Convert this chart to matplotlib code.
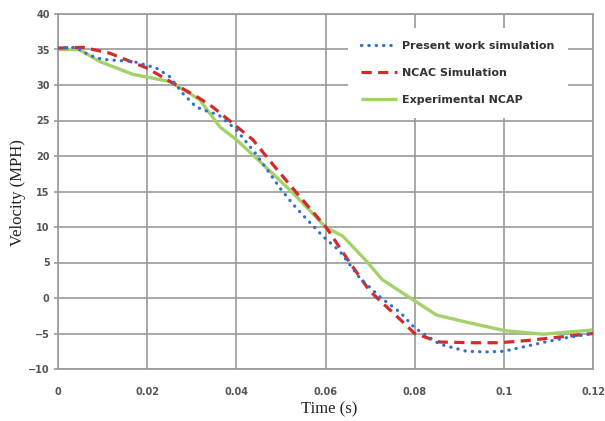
import matplotlib
matplotlib.use("Agg")
import matplotlib.pyplot as plt

# ---- data ----
t_present = [0, 0.004, 0.007, 0.010, 0.017, 0.022, 0.025, 0.028, 0.031, 0.0335, 0.036, 0.040,
             0.0445, 0.050, 0.0534, 0.0594, 0.0632, 0.0677, 0.0725, 0.0767, 0.080, 0.0856,
             0.0916, 0.096, 0.100, 0.105, 0.110, 0.114, 0.120]
v_present = [35.2, 35.3, 34.2, 33.6, 33.3, 32.4, 31.2, 28.8, 26.9, 26.3, 25.8, 23.7,
             20.2, 15.3, 12.7, 8.7, 6.6, 2.8, 0.0, -2.0, -4.2, -6.5,
             -7.5, -7.6, -7.5, -6.8, -6.1, -5.6, -5.0]

t_ncac = [0, 0.0057, 0.0115, 0.0199, 0.0257, 0.0318, 0.0347, 0.0392, 0.0437, 0.0482, 0.0538,
          0.0602, 0.065, 0.0699, 0.0767, 0.080, 0.0856, 0.0931, 0.099, 0.105, 0.111, 0.120]
v_ncac = [35.2, 35.3, 34.5, 32.4, 30.3, 28.1, 26.9, 24.6, 22.3, 18.8, 14.6,
          9.9, 5.4, 1.0, -3.0, -5.0, -6.2, -6.3, -6.3, -6.0, -5.6, -5.0]

t_exp = [0, 0.0047, 0.0094, 0.0168, 0.025, 0.0296, 0.0318, 0.0363, 0.040, 0.0438, 0.0527,
         0.060, 0.0639, 0.0692, 0.0727, 0.080, 0.0849, 0.0916, 0.1002, 0.1088, 0.120]
v_exp = [35.0, 35.0, 33.3, 31.5, 30.5, 28.8, 27.9, 24.1, 22.3, 20.1, 14.8,
         10.0, 8.7, 5.2, 2.6, -0.4, -2.4, -3.4, -4.6, -5.1, -4.5]

x_ticks = [0, 0.02, 0.04, 0.06, 0.08, 0.10, 0.12]
x_ticklabels = ["0", "0.02", "0.04", "0.06", "0.08", "0.1", "0.12"]
y_ticks = [-10, -5, 0, 5, 10, 15, 20, 25, 30, 35, 40]

labels = ["Present work simulation", "NCAC Simulation", "Experimental NCAP"]

# ---- figure ----
fig = plt.figure(figsize=(6.05, 4.21), dpi=100)
ax = fig.add_axes([58/605, 1-369/421, (593-58)/605, (369-14)/421])

grid_c = "#9a9a9a"
ax.plot(t_present, v_present, color="#2f6fd0", lw=2.3, linestyle=(0, (0.1, 2.2)),
        dash_capstyle="round", label=labels[0], zorder=4)
ax.plot(t_ncac, v_ncac, color="#d42a2a", lw=2.3, linestyle=(0, (3.2, 2.0)),
        dash_capstyle="butt", label=labels[1], zorder=3)
ax.plot(t_exp, v_exp, color="#a3d26a", lw=2.4, label=labels[2], zorder=2,
        solid_capstyle="butt")

ax.set_xlim(0, 0.12)
ax.set_ylim(-10, 40)
ax.set_xticks(x_ticks)
ax.set_xticklabels(x_ticklabels)
ax.set_yticks(y_ticks)
ax.grid(True, color=grid_c, lw=1.2)
ax.set_axisbelow(True)
for s in ax.spines.values():
    s.set_color(grid_c)
    s.set_linewidth(1.2)

for lab in ax.get_xticklabels() + ax.get_yticklabels():
    lab.set_fontfamily("DejaVu Sans")
    lab.set_fontweight("bold")
    lab.set_fontsize(7)
    lab.set_color("#555555")
ax.tick_params(axis="x", length=0, pad=13)
ax.tick_params(axis="y", length=3, width=1.2, color=grid_c, pad=3)

fig.text(329/605, 1-409/421, "Time (s)", family="Liberation Serif", fontsize=12,
         color="#222222", ha="center", va="center")
fig.text(18/605, 1-193/421, "Velocity (MPH)", family="Liberation Serif", fontsize=12,
         color="#222222", ha="center", va="center", rotation=90)

leg = ax.legend(loc="upper left", bbox_to_anchor=(348/605, 1-28/421),
                bbox_transform=fig.transFigure, borderaxespad=0,
                frameon=True, fancybox=False, framealpha=1, facecolor="white",
                edgecolor="none", handlelength=3.2, handletextpad=0.45,
                labelspacing=1.5, borderpad=1.2,
                prop=dict(family="DejaVu Sans", weight="bold", size=8))
for txt in leg.get_texts():
    txt.set_color("#333333")

fig.savefig("out.png", dpi=100)
